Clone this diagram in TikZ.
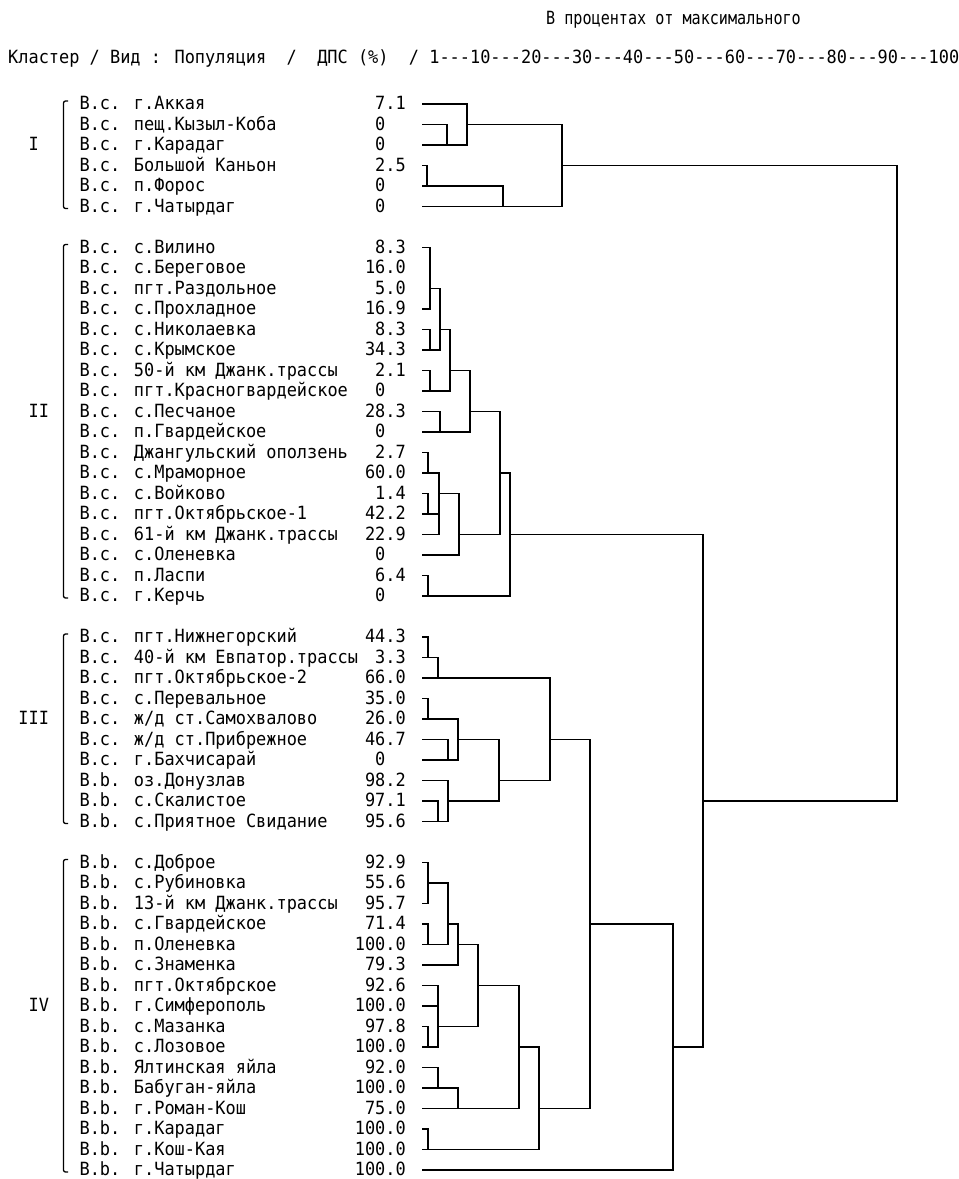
\documentclass[tikz,border=0pt]{standalone}
\usepackage{fontspec}
\newfontfamily\dosfont[FakeStretch=0.93]{DejaVu Sans Mono}
\newfontfamily\dosnarrow[FakeStretch=0.83]{DejaVu Sans Mono}
\newcommand\dpsval[2]{\llap{#1}\rlap{#2}}

\begin{document}
\begin{tikzpicture}[
    x=1pt, y=-1pt,
    every node/.style={font={\dosfont\fontsize{18.2}{20}\selectfont}, inner sep=0pt},
    sitetext/.style={anchor=base west},
    dpstext/.style={anchor=base},
    link/.style={line width=1.6pt, line cap=rect},
    clusterbrace/.style={line width=1.3pt, rounded corners=2pt}
  ]

  \useasboundingbox (0,0) rectangle (959,1179);
  \fill[white] (0,0) rectangle (959,1179);

  % header
  \node[sitetext, font={\dosnarrow\fontsize{18.2}{20}\selectfont}] (title) at (546,24.5) {В процентах от максимального};
  \node[sitetext] (head) at (8,63.5) {Кластер / Вид : Популяция\ \ /\ \ ДПС (\%)\ \ / 1---10---20---30---40---50---60---70---80---90---100};

  % populations
  \foreach \r/\site/\ip/\fp in {
      0/{B.c. г.Аккая}/7/.1,
      1/{B.c. пещ.Кызыл-Коба}/0/{},
      2/{B.c. г.Карадаг}/0/{},
      3/{B.c. Большой Каньон}/2/.5,
      4/{B.c. п.Форос}/0/{},
      5/{B.c. г.Чатырдаг}/0/{},
      7/{B.c. с.Вилино}/8/.3,
      8/{B.c. с.Береговое}/16/.0,
      9/{B.c. пгт.Раздольное}/5/.0,
      10/{B.c. с.Прохладное}/16/.9,
      11/{B.c. с.Николаевка}/8/.3,
      12/{B.c. с.Крымское}/34/.3,
      13/{B.c. 50-й км Джанк.трассы}/2/.1,
      14/{B.c. пгт.Красногвардейское}/0/{},
      15/{B.c. с.Песчаное}/28/.3,
      16/{B.c. п.Гвардейское}/0/{},
      17/{B.c. Джангульский оползень}/2/.7,
      18/{B.c. с.Мраморное}/60/.0,
      19/{B.c. с.Войково}/1/.4,
      20/{B.c. пгт.Октябрьское-1}/42/.2,
      21/{B.c. 61-й км Джанк.трассы}/22/.9,
      22/{B.c. с.Оленевка}/0/{},
      23/{B.c. п.Ласпи}/6/.4,
      24/{B.c. г.Керчь}/0/{},
      26/{B.c. пгт.Нижнегорский}/44/.3,
      27/{B.c. 40-й км Евпатор.трассы}/3/.3,
      28/{B.c. пгт.Октябрьское-2}/66/.0,
      29/{B.c. с.Перевальное}/35/.0,
      30/{B.c. ж/д ст.Самохвалово}/26/.0,
      31/{B.c. ж/д ст.Прибрежное}/46/.7,
      32/{B.c. г.Бахчисарай}/0/{},
      33/{B.b. оз.Донузлав}/98/.2,
      34/{B.b. с.Скалистое}/97/.1,
      35/{B.b. с.Приятное Свидание}/95/.6,
      37/{B.b. с.Доброе}/92/.9,
      38/{B.b. с.Рубиновка}/55/.6,
      39/{B.b. 13-й км Джанк.трассы}/95/.7,
      40/{B.b. с.Гвардейское}/71/.4,
      41/{B.b. п.Оленевка}/100/.0,
      42/{B.b. с.Знаменка}/79/.3,
      43/{B.b. пгт.Октябрское}/92/.6,
      44/{B.b. г.Симферополь}/100/.0,
      45/{B.b. с.Мазанка}/97/.8,
      46/{B.b. с.Лозовое}/100/.0,
      47/{B.b. Ялтинская яйла}/92/.0,
      48/{B.b. Бабуган-яйла}/100/.0,
      49/{B.b. г.Роман-Кош}/75/.0,
      50/{B.b. г.Карадаг}/100/.0,
      51/{B.b. г.Кош-Кая}/100/.0,
      52/{B.b. г.Чатырдаг}/100/.0} {
    \pgfmathsetmacro\yy{104+20.5*\r}
    \coordinate (l\r) at (423,\yy);
    \node[sitetext] (s\r) at (79.4,\yy+5.5) {\site};
    \node[dpstext] (v\r) at (385.4,\yy+5.5) {\dpsval{\ip}{\fp}};
  }

  % clusters
  \foreach \n/\txt/\xx/\r/\first/\last in {cI/I/28.4/2/0/5, cII/II/28.4/15/7/24, cIII/III/18.2/30/26/35, cIV/IV/28.4/44/37/52} {
    \node[sitetext] (\n) at (\xx,{104+20.5*\r+5.5}) {\txt};
    \draw[clusterbrace] (68,{104+20.5*\first-3}) -- (63.5,{104+20.5*\first-3})
      -- (63.5,{104+20.5*\last+2}) -- (68,{104+20.5*\last+2});
  }

  % merge points: name/level x/row
  \foreach \n/\xx/\r in {a1/447/2, a2/467/1, a3/427/4, a4/503/5, a5/562/3,
      b1/430/9, b2/430/12, b3/440/11, b4/430/14, b5/450/13, b6/440/16, b7/470/15,
      b8/428/18, b9/428/20, b10/439/19, b11/459/21, b12/500/18, b13/428/24, b14/510/21,
      c1/428/27, c2/438/28, c3/428/30, c4/448/32, c5/458/31, c6/438/35, c7/448/34,
      c8/499/33, c9/550/31,
      d1/428/38, d2/428/41, d3/448/40, d4/458/41, d5/428/46, d6/438/45, d7/478/43,
      d8/438/48, d9/458/49, d10/519/46, d11/428/51, d12/539/49,
      e1/590/40, e2/673/46, e3/703/34, root/897/19} {
    \coordinate (\n) at (\xx,{104+20.5*\r});
  }

  \foreach \a/\b in {l1/a1, l2/a1, l0/a2, a1/a2, l3/a3, l4/a3, a3/a4, l5/a4, a2/a5, a4/a5,
      l7/b1, l10/b1, l11/b2, l12/b2, b1/b3, b2/b3, l13/b4, l14/b4, b3/b5, b4/b5,
      l15/b6, l16/b6, b5/b7, b6/b7, l17/b8, l18/b8, l19/b9, l20/b9, b8/b10, b9/b10,
      l21/b10, b10/b11, l22/b11, b7/b12, b11/b12, l23/b13, l24/b13, b12/b14, b13/b14,
      l26/c1, l27/c1, c1/c2, l28/c2, l29/c3, l30/c3, l31/c4, l32/c4, c3/c5, c4/c5,
      l34/c6, l35/c6, l33/c7, c6/c7, c5/c8, c7/c8, c2/c9, c8/c9,
      l37/d1, l39/d1, l40/d2, l41/d2, d1/d3, d2/d3, d3/d4, l42/d4, l45/d5, l46/d5,
      l43/d6, l44/d6, d5/d6, d4/d7, d6/d7, l47/d8, l48/d8, d8/d9, l49/d9, d7/d10,
      d9/d10, l50/d11, l51/d11, d10/d12, d11/d12,
      c9/e1, d12/e1, e1/e2, l52/e2, b14/e3, e2/e3, a5/root, e3/root} {
    \draw[link] (\a) -| (\b);
  }

\end{tikzpicture}
\end{document}
